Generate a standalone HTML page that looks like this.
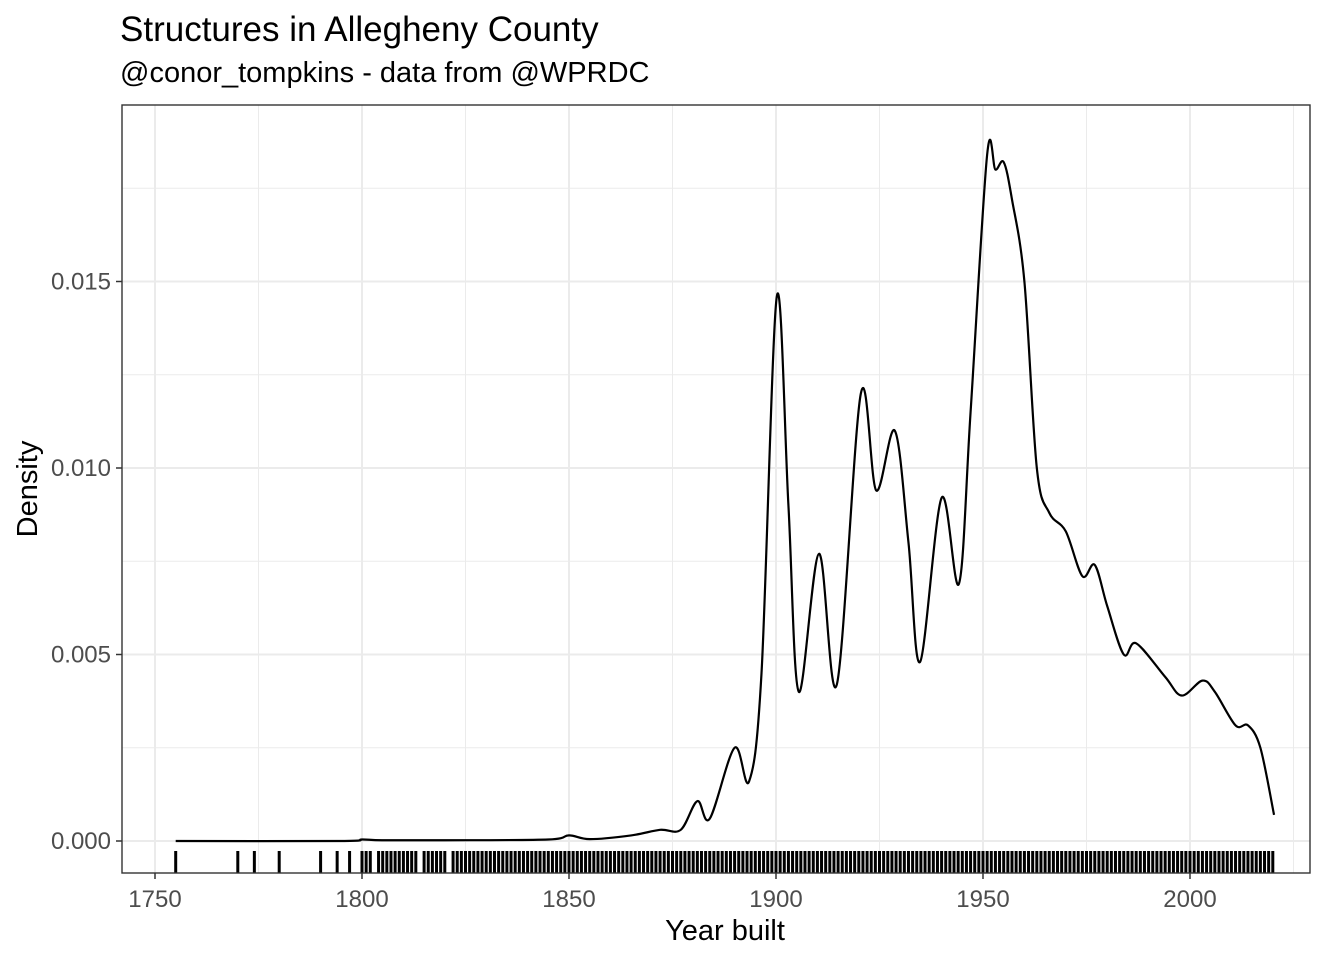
<!DOCTYPE html>
<html><head><meta charset="utf-8"><style>
body{margin:0;background:#fff;}
svg text{font-family:"Liberation Sans",Arial,sans-serif;}
</style></head><body>
<svg id="chart" width="1344" height="960">
<text x="120" y="41" font-size="35" fill="#000">Structures in Allegheny County</text>
<text x="120" y="82" font-size="29" fill="#000">@conor_tompkins - data from @WPRDC</text>
<g id="grid"></g>
<g id="rug"></g>
<path id="curve" fill="none" stroke="#000" stroke-width="2.2"/>
<rect x="122" y="105" width="1188" height="768" fill="none" stroke="#333" stroke-width="1.4"/>
<g id="axes"></g>
<text x="725" y="940" font-size="29" text-anchor="middle">Year built</text>
<text transform="translate(37,489) rotate(-90)" font-size="29" text-anchor="middle">Density</text>
</svg>
<script>
const xTicks=[1750,1800,1850,1900,1950,2000];
const yTicks=[0,0.005,0.010,0.015];
const yTickLabels=["0.000","0.005","0.010","0.015"];
const curveYears=[1755,1795,1800,1805,1820,1845,1850,1855,1865,1872,1877,1881,1884,1890,1893.5,1896.5,1900.2,1903,1905.5,1910.4,1914.7,1920.5,1924.2,1928.7,1932,1934.8,1940,1944.2,1947,1951.0,1953,1955,1957,1960,1963,1966,1970,1974,1977,1980,1984,1987,1994,1998,2003,2006,2011,2014,2017,2020.3];
const curveDensity=[0,0,0.00004,0.00002,0.00002,0.00004,0.00015,0.00005,0.00015,0.0003,0.0003,0.00107,0.0006,0.0025,0.0016,0.0045,0.0146,0.009,0.0040,0.0077,0.0042,0.0120,0.0094,0.0110,0.0080,0.0048,0.0092,0.0069,0.0115,0.0184,0.0180,0.0182,0.0172,0.0150,0.0100,0.0088,0.0083,0.0071,0.0074,0.0063,0.0050,0.0053,0.0044,0.0039,0.0043,0.0040,0.0031,0.0031,0.0025,0.0007];
const rugYears=[1755,1770,1774,1780,1790,1794,1797,1800,1801,1802,1804,1805,1806,1807,1808,1809,1810,1811,1812,1813,1815,1816,1817,1818,1819,1820,1822,1823,1824,1825,1826,1827,1828,1829,1830,1831,1832,1833,1834,1835,1836,1837,1838,1839,1840,1841,1842,1843,1844,1845,1846,1847,1848,1849,1850,1851,1852,1853,1854,1855,1856,1857,1858,1859,1860,1861,1862,1863,1864,1865,1866,1867,1868,1869,1870,1871,1872,1873,1874,1875,1876,1877,1878,1879,1880,1881,1882,1883,1884,1885,1886,1887,1888,1889,1890,1891,1892,1893,1894,1895,1896,1897,1898,1899,1900,1901,1902,1903,1904,1905,1906,1907,1908,1909,1910,1911,1912,1913,1914,1915,1916,1917,1918,1919,1920,1921,1922,1923,1924,1925,1926,1927,1928,1929,1930,1931,1932,1933,1934,1935,1936,1937,1938,1939,1940,1941,1942,1943,1944,1945,1946,1947,1948,1949,1950,1951,1952,1953,1954,1955,1956,1957,1958,1959,1960,1961,1962,1963,1964,1965,1966,1967,1968,1969,1970,1971,1972,1973,1974,1975,1976,1977,1978,1979,1980,1981,1982,1983,1984,1985,1986,1987,1988,1989,1990,1991,1992,1993,1994,1995,1996,1997,1998,1999,2000,2001,2002,2003,2004,2005,2006,2007,2008,2009,2010,2011,2012,2013,2014,2015,2016,2017,2018,2019,2020];
const NS="http://www.w3.org/2000/svg";
const X=y=>155+(y-1750)*4.14;
const Y=d=>841-d*37300;
const grid=document.getElementById('grid'),axes=document.getElementById('axes'),rug=document.getElementById('rug');
function ln(p,x1,y1,x2,y2,c,w){const l=document.createElementNS(NS,'line');l.setAttribute('x1',x1);l.setAttribute('y1',y1);l.setAttribute('x2',x2);l.setAttribute('y2',y2);l.setAttribute('stroke',c);l.setAttribute('stroke-width',w);p.appendChild(l);return l;}
for(let i=0;i<xTicks.length;i++){
 const v=xTicks[i];
 const m=ln(grid,X(v+25),105,X(v+25),873,'#ebebeb',1);
 
 
 const g=ln(grid,X(v),105,X(v),873,'#ebebeb',2);
 
 
 const t=ln(axes,X(v),873,X(v),879,'#333',1.5);
 
 
 const tx=document.createElementNS(NS,'text');tx.setAttribute('x',X(v));tx.setAttribute('y',907);tx.setAttribute('font-size','24');tx.setAttribute('fill','#4d4d4d');tx.setAttribute('text-anchor','middle');tx.textContent=v;
 
 
 axes.appendChild(tx);
}
for(let i=0;i<yTicks.length;i++){
 const v=yTicks[i];
 const m=ln(grid,122,Y(v+0.0025),1310,Y(v+0.0025),'#ebebeb',1);
 
 
 const g=ln(grid,122,Y(v),1310,Y(v),'#ebebeb',2);
 
 
 const t=ln(axes,116,Y(v),122,Y(v),'#333',1.5);
 
 
 const tx=document.createElementNS(NS,'text');tx.setAttribute('x',111);tx.setAttribute('y',Y(v)+8);tx.setAttribute('font-size','24');tx.setAttribute('fill','#4d4d4d');tx.setAttribute('text-anchor','end');tx.textContent=yTickLabels[i];
 
 
 axes.appendChild(tx);
}
for(const yr of rugYears){
 const r=ln(rug,X(yr),851,X(yr),873,'#000',3);
 
 
}
const pts=curveYears.map((y,i)=>[X(y),Y(curveDensity[i])]);
let d='M'+pts[0][0]+','+pts[0][1];
for(let i=0;i<pts.length-1;i++){
 const p0=pts[Math.max(i-1,0)],p1=pts[i],p2=pts[i+1],p3=pts[Math.min(i+2,pts.length-1)];
 const c1=[p1[0]+(p2[0]-p0[0])/6,p1[1]+(p2[1]-p0[1])/6];
 const c2=[p2[0]-(p3[0]-p1[0])/6,p2[1]-(p3[1]-p1[1])/6];
 d+=` C${c1[0]},${c1[1]} ${c2[0]},${c2[1]} ${p2[0]},${p2[1]}`;
}
document.getElementById('curve').setAttribute('d',d);
</script>
</body></html>
